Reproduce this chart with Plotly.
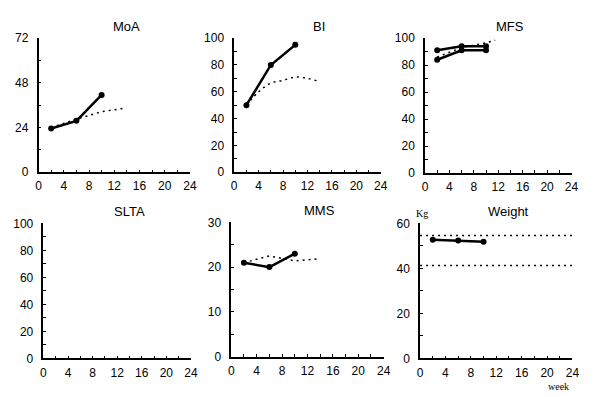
import plotly.graph_objects as go

W, H = 600, 397

weeks = [2, 6, 10]

moa_solid = [23.5, 27.6, 41.5]
moa_dot_x = [2, 6, 10, 13.6]
moa_dot_y = [24, 28.5, 32.5, 34.4]

bi_solid = [50, 80, 95]
bi_dot_x = [2, 4, 6, 8, 10, 12, 13.5]
bi_dot_y = [50, 60, 66.5, 68.5, 71, 70, 68.2]

mfs_solid_a = [91, 94, 94]
mfs_solid_b = [84, 91, 91]
mfs_dot_x = [2, 6, 10, 11.5]
mfs_dot_y = [86, 93, 96.5, 98.5]

mms_solid = [21, 20, 23]
mms_dot_x = [2, 6, 10, 13.5]
mms_dot_y = [21, 22.5, 21.4, 21.8]

weight_solid = [52.7, 52.4, 51.8]
weight_upper = 54.6
weight_lower = 41.3

titles = ["MoA", "BI", "MFS", "SLTA", "MMS", "Weight"]

# pixel boxes: (left, right, top, bottom)
boxes = [
    (28, 182, 24, 163),
    (227, 376, 24, 163),
    (421, 570, 24, 164),
    (33, 183, 216, 356),
    (224, 379, 215, 354),
    (416, 571, 216, 356),
]
yranges = [72, 100, 100, 100, 30, 60]
ydticks = [24, 20, 20, 20, 10, 20]

fig = go.Figure()

tick_font = dict(family="Liberation Sans Narrow, Liberation Sans, Arial", size=12, color="black")

for i, (l, r, t, b) in enumerate(boxes):
    n = "" if i == 0 else str(i + 1)
    fig.update_layout(**{
        f"xaxis{n}": dict(
            domain=[l / W, r / W], range=[0, 24], anchor=f"y{n}",
            tickmode="linear", tick0=0, dtick=4, ticks="inside", ticklen=3,
            tickwidth=1, tickcolor="black",
            minor=dict(dtick=2, ticks="inside", ticklen=3, tickcolor="black", tickwidth=1),
            showline=True, linecolor="black", linewidth=1.5, showgrid=False,
            zeroline=False, tickfont=tick_font, fixedrange=True, ticklabelstandoff=2,
        ),
        f"yaxis{n}": dict(
            domain=[1 - b / H, 1 - t / H], range=[0, yranges[i]], anchor=f"x{n}",
            tickmode="linear", tick0=0, dtick=ydticks[i], ticks="inside", ticklen=3,
            tickwidth=1, tickcolor="black",
            minor=dict(dtick=ydticks[i] / 2, ticks="inside", ticklen=3, tickcolor="black", tickwidth=1),
            showline=True, linecolor="black", linewidth=1.5, showgrid=False,
            zeroline=False, tickfont=tick_font, fixedrange=True, ticklabelstandoff=6,
        ),
    })
    fig.add_annotation(
        text=titles[i], xref="paper", yref="paper",
        x=((l + r) / 2 + 12) / W, y=1 - (t - 2) / H,
        xanchor="center", yanchor="bottom", showarrow=False,
        font=dict(family="Liberation Sans, Arial", size=13, color="black"),
    )

solid_style = dict(mode="lines+markers", line=dict(color="black", width=2.5),
                   marker=dict(color="black", size=6), showlegend=False, cliponaxis=False)
dot_style = dict(mode="lines", line=dict(color="black", width=1.5, dash="2px,4px"),
                 showlegend=False, cliponaxis=False)

def ax(i):
    n = "" if i == 0 else str(i + 1)
    return dict(xaxis=f"x{n}", yaxis=f"y{n}")

# MoA
fig.add_trace(go.Scatter(x=moa_dot_x, y=moa_dot_y, **dot_style, **ax(0)))
fig.add_trace(go.Scatter(x=weeks, y=moa_solid, **solid_style, **ax(0)))
# BI
fig.add_trace(go.Scatter(x=bi_dot_x, y=bi_dot_y, line_shape="spline", **dot_style, **ax(1)))
fig.add_trace(go.Scatter(x=weeks, y=bi_solid, **solid_style, **ax(1)))
# MFS
fig.add_trace(go.Scatter(x=mfs_dot_x, y=mfs_dot_y, **dot_style, **ax(2)))
fig.add_trace(go.Scatter(x=weeks, y=mfs_solid_a, **solid_style, **ax(2)))
fig.add_trace(go.Scatter(x=weeks, y=mfs_solid_b, **solid_style, **ax(2)))
# SLTA: empty axes
fig.add_trace(go.Scatter(x=[], y=[], showlegend=False, **ax(3)))
# MMS
fig.add_trace(go.Scatter(x=mms_dot_x, y=mms_dot_y, **dot_style, **ax(4)))
fig.add_trace(go.Scatter(x=weeks, y=mms_solid, **solid_style, **ax(4)))
# Weight
fig.add_trace(go.Scatter(x=[0, 24], y=[weight_upper, weight_upper], **dot_style, **ax(5)))
fig.add_trace(go.Scatter(x=[0, 24], y=[weight_lower, weight_lower], **dot_style, **ax(5)))
fig.add_trace(go.Scatter(x=weeks, y=weight_solid, **solid_style, **ax(5)))

fig.add_annotation(text="Kg", xref="paper", yref="paper", x=418 / W, y=1 - 206 / H,
                   xanchor="center", yanchor="middle", showarrow=False,
                   font=dict(family="Liberation Serif, serif", size=10, color="black"))
fig.add_annotation(text="week", xref="paper", yref="paper", x=557 / W, y=1 - 385 / H,
                   xanchor="center", yanchor="middle", showarrow=False,
                   font=dict(family="Liberation Serif, serif", size=10, color="black"))

fig.update_layout(width=W, height=H, margin=dict(l=0, r=0, t=0, b=0),
                  paper_bgcolor="white", plot_bgcolor="white")

fig.write_html("out.html")
